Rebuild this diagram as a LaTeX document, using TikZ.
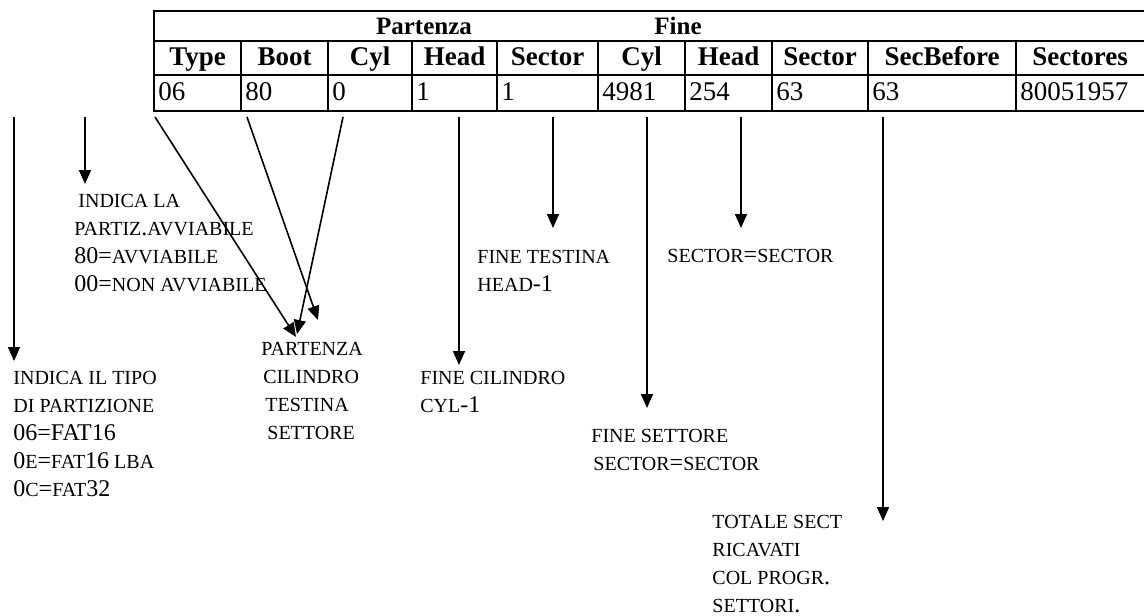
\documentclass[tikz,border=0pt]{standalone}
\usepackage{fontspec}
\setmainfont{Liberation Serif}
\usepackage{tikz}
\usetikzlibrary{arrows.meta}
\newcommand{\gr}[1]{{\fontsize{12}{14}\selectfont #1}}
\tikzset{
  freccia/.style={-{Triangle[width=6pt,length=7pt]}, line width=0.8pt},
  bordo/.style={line width=1pt},
  nota/.style={anchor=base west, align=left, inner sep=0pt, font=\fontsize{10}{14}\selectfont},
  intest/.style={anchor=base, inner sep=0pt, font=\fontsize{13.5}{16}\selectfont\bfseries},
  dato/.style={anchor=base west, inner sep=0pt, font=\fontsize{13.5}{16}\selectfont},
}

\begin{document}
\begin{tikzpicture}[x=0.5pt, y=-0.5pt]
  \useasboundingbox (0,0) rectangle (1144,615);
  % tabella
  \draw[bordo] (1144,11) -- (154,11) -- (154,111) -- (1144,111);
  \draw[bordo] (154,41) -- (1144,41);
  \draw[bordo] (154,75) -- (1144,75);
  \foreach \x in {241,328,412,497,598,685,772,868,1016} \draw[bordo] (\x,41) -- (\x,111);
  \node[intest, font=\fontsize{12.5}{15}\selectfont\bfseries] (partenza) at (424,35) {Partenza};
  \node[intest, font=\fontsize{12.5}{15}\selectfont\bfseries] (fine) at (678,35) {Fine};
  \foreach \a/\b/\t in {154/241/Type, 241/328/Boot, 328/412/Cyl, 412/497/Head, 497/598/Sector, 598/685/Cyl, 685/772/Head, 772/868/Sector, 868/1016/SecBefore, 1016/1144/Sectores}
    \node[intest] (h-\a) at ({(\a+\b)/2},66) {\t};
  \foreach \a/\t in {154/06, 241/80, 328/0, 412/1, 497/1, 598/4981, 685/254, 772/63, 868/63, 1016/80051957}
    \node[dato] (d-\a) at (\a+4,101) {\t};
  % note (ancorate alla riga di base dell'ultima riga)
  \node[nota] (boot) at (74,291) {\hspace{2pt}INDICA LA\\PARTIZ\gr{.}AVVIABILE\\\gr{80=}AVVIABILE\\\gr{00=}NON AVVIABILE};
  \node[nota] (tipo) at (13,496) {INDICA IL TIPO\\DI PARTIZIONE\\\gr{06=FAT16}\\\gr{0}E\gr{=}FAT\gr{16} LBA\\\gr{0}C\gr{=}FAT\gr{32}};
  \node[nota] (inizio) at (261,439) {PARTENZA\\\hspace{1pt}CILINDRO\\\hspace{2pt}TESTINA\\\hspace{3pt}SETTORE};
  \node[nota] (testina) at (477,291) {FINE TESTINA\\HEAD\gr{-1}};
  \node[nota] (sector) at (667,262) {SECTOR\gr{=}SECTOR};
  \node[nota] (cilindro) at (420,412) {FINE CILINDRO\\CYL\gr{-1}};
  \node[nota] (settore) at (591,470) {FINE SETTORE\\\hspace{1pt}SECTOR\gr{=}SECTOR};
  \node[nota] (totale) at (712,612) {TOTALE SECT\\RICAVATI\\COL PROGR\gr{.}\\SETTORI\gr{.}};
  % frecce
  \coordinate (tipoS) at (14,117);     \coordinate (tipoE) at (14,361);
  \coordinate (bootS) at (85,117);     \coordinate (bootE) at (85,184);
  \coordinate (cylS) at (155,117);     \coordinate (cylE) at (296,337);
  \coordinate (headS) at (247,117);    \coordinate (headE) at (318,320);
  \coordinate (secS) at (343,117);     \coordinate (secE) at (297,334);
  \coordinate (fcylS) at (459,117);    \coordinate (fcylE) at (459,365);
  \coordinate (fheadS) at (553,117);   \coordinate (fheadE) at (553,228);
  \coordinate (fsecS) at (647,117);    \coordinate (fsecE) at (647,408);
  \coordinate (sectS) at (741,117);    \coordinate (sectE) at (741,228);
  \coordinate (totS) at (883,117);     \coordinate (totE) at (883,521);
  \foreach \n in {tipo,boot,cyl,head,sec,fcyl,fhead,fsec,sect,tot}
    \draw[freccia] (\n S) -- (\n E);
\end{tikzpicture}
\end{document}
